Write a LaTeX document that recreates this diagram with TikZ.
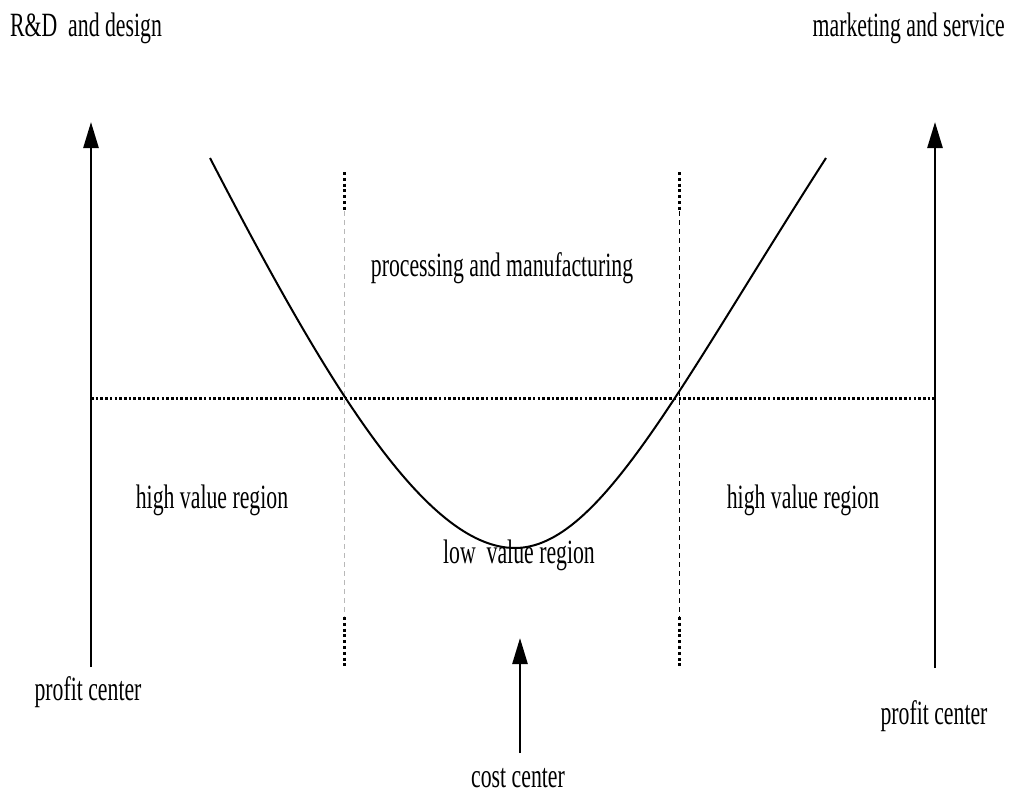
\documentclass[tikz,border=0pt]{standalone}
\usepackage{fontspec}
\setmainfont{Liberation Serif}[FakeStretch=0.64]
\usetikzlibrary{arrows.meta}
\begin{document}
\begin{tikzpicture}[x=1pt,y=-1pt,
  lbl/.style={font=\fontsize{34}{36}\selectfont, inner sep=0pt},
  axisarrow/.style={line width=2.6pt, -{Triangle[length=26pt,width=15pt]}},
  hdots/.style={line width=3pt, dash pattern=on 2.6pt off 2.1pt},
  vdots/.style={line width=3pt, dash pattern=on 3pt off 2.8pt},
  graydash/.style={line width=0.8pt, draw=black!28, dash pattern=on 5pt off 4pt},
  blackdash/.style={line width=0.8pt, draw=black, dash pattern=on 5pt off 4pt},
  curve/.style={line width=2pt}]
\useasboundingbox (0,0) rectangle (1013,798);

% texts
\node[lbl, anchor=west] (rd) at (10,28) {R\&D\ \ and design};
\node[lbl, anchor=east] (ms) at (1005,28) {marketing and service};
\node[lbl] (pm) at (502,268) {processing and manufacturing};
\node[lbl] (hl) at (212,500) {high value region};
\node[lbl] (hr) at (803,500) {high value region};
\node[lbl] (lv) at (519,555) {low\ \ value region};
\node[lbl] (pl) at (88,692) {profit center};
\node[lbl] (pr) at (934,716) {profit center};
\node[lbl] (cc) at (518,778) {cost center};

% coordinates
\coordinate (la0) at (91,667);
\coordinate (la1) at (91,122);
\coordinate (ra0) at (935,668);
\coordinate (ra1) at (935,122);
\coordinate (ca0) at (520,753);
\coordinate (ca1) at (520,638);
\coordinate (h0) at (91,398);
\coordinate (h1) at (935,398);
\coordinate (lt0) at (344,172);
\coordinate (lt1) at (344,211);
\coordinate (lb0) at (344,617);
\coordinate (lb1) at (344,666);
\coordinate (rt0) at (679,172);
\coordinate (rt1) at (679,211);
\coordinate (rb0) at (679,617);
\coordinate (rb1) at (679,666);

% dotted horizontal
\draw[hdots] (h0) -- (h1);

% vertical separators
\draw[vdots] (lt0) -- (lt1);
\draw[graydash] (lt1) -- (lb0);
\draw[vdots] (lb0) -- (lb1);
\draw[vdots] (rt0) -- (rt1);
\draw[blackdash] (rt1) -- (rb0);
\draw[vdots] (rb0) -- (rb1);

% curve
\draw[curve] (210,158) .. controls (325,380) and (425,548) .. (515,548)
  .. controls (600,548) and (680,385) .. (826,158);

% arrows
\draw[axisarrow] (la0) -- (la1);
\draw[axisarrow] (ra0) -- (ra1);
\draw[axisarrow] (ca0) -- (ca1);
\end{tikzpicture}
\end{document}
